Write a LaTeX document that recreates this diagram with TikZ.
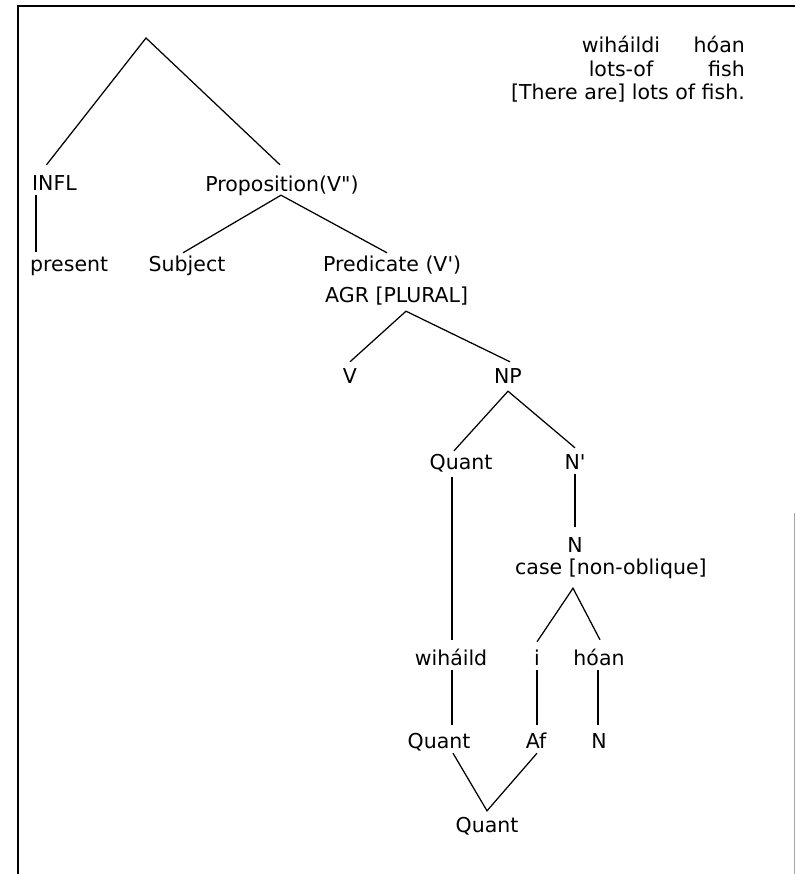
\documentclass[tikz,border=0pt]{standalone}
\usepackage{fontspec}
\setmainfont{DejaVu Sans}
\begin{document}
\begin{tikzpicture}[x=1pt,y=-1pt,
  lbl/.style={anchor=base,inner xsep=0pt,inner ysep=5pt,text height=16pt,text depth=0pt,font=\fontsize{20.5}{24}\selectfont},
  lblw/.style={lbl,anchor=base west},
  gl/.style={inner sep=0pt,font=\fontsize{20.5}{24}\selectfont},
  edge/.style={line width=1.25pt},
  frame/.style={line width=2pt,black}]
\useasboundingbox (0,0) rectangle (795,874);
% frame
\draw[frame] (17.5,874) -- (17.5,6) -- (795,6);
\draw[line width=1pt,black!35] (794,513) -- (794,874);

% gloss
\node[gl,anchor=base] (g1) at (621,53) {wiháildi};
\node[gl,anchor=base east] (g2) at (745,53) {hóan};
\node[gl,anchor=base] (g3) at (621,77) {lots-of};
\node[gl,anchor=base east] (g4) at (745,77) {fish};
\node[gl,anchor=base east] (g5) at (745,100) {[There are] lots of fish.};

% tree labels
\coordinate (root) at (146,38);
\node[lblw] (INFL) at (32,191) {INFL};
\node[lbl] (Prop) at (282,192) {Proposition(V\textquotedbl)};
\node[lblw] (present) at (30,272) {present};
\node[lbl] (Subj) at (187,272) {Subject};
\node[lblw] (Pred) at (323,272) {Predicate (V\textquotesingle)};
\node[lblw] (AGR) at (325,302) {AGR [PLURAL]};
\node[lbl] (V) at (350,383) {V};
\node[lbl] (NP) at (508,383) {NP};
\node[lbl] (Q1) at (461,469) {Quant};
\node[lbl] (Np) at (575,469) {N\textquotesingle};
\node[lbl] (N) at (575,552) {N};
\node[lblw] (case) at (515,574) {case [non-oblique]};
\node[lbl] (wih) at (451,665) {wiháild};
\node[lbl] (i) at (537,665) {i};
\node[lbl] (hoan) at (599,665) {hóan};
\node[lbl] (Q2) at (439,748) {Quant};
\node[lbl] (Af) at (536,748) {Af};
\node[lbl] (N2) at (599,748) {N};
\node[lbl] (Q3) at (487,832) {Quant};

% apexes
\coordinate (papex) at ([xshift=-1pt,yshift=2pt]Prop.south);
\coordinate (aapex) at ([xshift=81pt,yshift=-4pt]AGR.south west);
\coordinate (napex) at ([yshift=-3pt]NP.south);
\coordinate (capex) at ([xshift=58pt,yshift=-9pt]case.south west);

% edges
\draw[edge] ([xshift=-8pt,yshift=5pt]INFL.north) -- (root) -- ([xshift=-2pt,yshift=6pt]Prop.north);
\draw[edge] ([xshift=4pt,yshift=1pt]INFL.south west) -- ([xshift=6pt,yshift=-1pt]present.north west);
\draw[edge] ([xshift=-4pt,yshift=-2pt]Subj.north) -- (papex) -- ([xshift=64pt,yshift=-2pt]Pred.north west);
\draw[edge] (V.north) -- (aapex) -- ([xshift=2pt]NP.north);
\draw[edge] ([xshift=-7pt,yshift=-3pt]Q1.north) -- (napex) -- (Np.north);
\draw[edge] ([xshift=-9pt,yshift=-3pt]Q1.south) -- ([xshift=1pt,yshift=4pt]wih.north);
\draw[edge] (Np.south) -- ([yshift=4pt]N.north);
\draw[edge] ([yshift=2pt]i.north) -- (capex) -- ([xshift=1pt,yshift=4pt]hoan.north);
\draw[edge] ([xshift=1pt]wih.south) -- ([xshift=13pt,yshift=2pt]Q2.north);
\draw[edge] (i.south) -- ([xshift=1pt,yshift=2pt]Af.north);
\draw[edge] ([xshift=-1pt]hoan.south) -- ([xshift=-1pt,yshift=2pt]N2.north);
\draw[edge] ([xshift=14pt]Q2.south) -- (Q3.north) -- ([xshift=1pt]Af.south);
\end{tikzpicture}
\end{document}
